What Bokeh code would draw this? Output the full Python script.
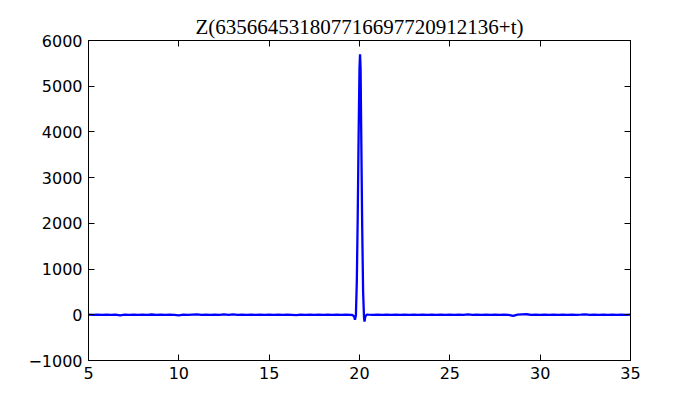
from bokeh.plotting import figure
from bokeh.models import LinearAxis, FixedTicker, CustomJSTickFormatter, Range1d
from bokeh.embed import file_html
from bokeh.resources import INLINE

t_left = [5.0, 5.25, 5.5, 5.75, 6.0, 6.25, 6.5, 6.75, 7.0, 7.25, 7.5, 7.75, 8.0, 8.25, 8.5, 8.75,
          9.0, 9.25, 9.5, 9.75, 10.0, 10.25, 10.5, 10.75, 11.0, 11.25, 11.5, 11.75, 12.0, 12.25,
          12.5, 12.75, 13.0, 13.25, 13.5, 13.75, 14.0, 14.25, 14.5, 14.75, 15.0, 15.25, 15.5, 15.75,
          16.0, 16.25, 16.5, 16.75, 17.0, 17.25, 17.5, 17.75, 18.0, 18.25, 18.5, 18.75, 19.0, 19.25, 19.5]
z_left = [2, -1, 3, -2, 2, -1, 3, -12, 4, -2, 3, -2, 4, -3, 6, -3,
          2, -4, 3, -2, -12, 3, -2, 4, 10, -3, 2, -4, 3, -1,
          7, -3, 8, -2, 3, -3, 5, -2, 2, -3, 3, -1, 2, -2,
          1, -3, -8, 2, -2, 3, -1, 4, -2, 2, -3, 3, -2, 3, -4]

t_peak = [19.6, 19.7, 19.75, 19.8, 19.85, 19.9, 19.95, 20.0, 20.03, 20.06, 20.1, 20.15, 20.2,
          20.25, 20.28, 20.32, 20.4]
z_peak = [-5, -35, -110, -10, 700, 2100, 3900, 5400, 5700, 5400, 3800, 1900, 500,
          -60, -150, -40, 4]

t_right = [20.5, 20.75, 21.0, 21.25, 21.5, 21.75, 22.0, 22.25, 22.5, 22.75, 23.0, 23.25, 23.5,
           23.75, 24.0, 24.25, 24.5, 24.75, 25.0, 25.25, 25.5, 25.75, 26.0, 26.25, 26.5, 26.75,
           27.0, 27.25, 27.5, 27.75, 28.0, 28.25, 28.5, 28.75, 29.0, 29.25, 29.5, 29.75, 30.0,
           30.25, 30.5, 30.75, 31.0, 31.25, 31.5, 31.75, 32.0, 32.25, 32.5, 32.75, 33.0, 33.25,
           33.5, 33.75, 34.0, 34.25, 34.5, 34.75, 35.0]
z_right = [2, -2, 3, -2, 2, -3, 3, -1, 2, -2, 3, -2, 1,
           -2, 2, -3, 4, -1, 3, -2, 3, -2, 8, -3, 4, -2,
           4, -3, 3, -4, 5, -3, -22, 4, 8, 12, -2, 3, -3,
           4, -2, 3, -2, 4, -1, 3, -2, 3, 10, -2, 3, -2,
           2, -1, 3, -2, 2, -1, 2]

x_ticks = [5, 10, 15, 20, 25, 30, 35]
y_ticks = [-1000, 0, 1000, 2000, 3000, 4000, 5000, 6000]
y_labels = {-1000: "\u22121000"}

title_text = "Z(635664531807716697720912136+t)"

t = t_left + t_peak + t_right
z = z_left + z_peak + z_right

p = figure(width=692, height=392, output_backend="svg", toolbar_location=None,
           x_range=Range1d(5, 35), y_range=Range1d(-1000, 6000),
           min_border_left=88, min_border_right=62, min_border_top=40, min_border_bottom=32)
p.title.text = title_text
p.title.align = "center"
p.title.text_font = "Liberation Serif"
p.title.text_font_size = "21px"
p.title.text_font_style = "normal"
p.title.text_color = "black"
p.title.standoff = 4

p.line(t, z, line_color="#0000ff", line_width=2.3)

p.xgrid.visible = False
p.ygrid.visible = False
p.outline_line_color = "black"
p.outline_line_width = 1
p.background_fill_color = "white"
p.border_fill_color = "white"

for ax in [p.xaxis[0], p.yaxis[0]]:
    ax.major_tick_in = 6
    ax.major_tick_out = 0
    ax.minor_tick_in = 0
    ax.minor_tick_out = 0
    ax.axis_line_color = "black"
    ax.major_tick_line_color = "black"
    ax.major_label_text_font = "DejaVu Sans"
    ax.major_label_text_font_size = "16px"
    ax.major_label_text_color = "black"

p.xaxis[0].ticker = FixedTicker(ticks=x_ticks)
p.yaxis[0].ticker = FixedTicker(ticks=y_ticks)
p.yaxis[0].major_label_overrides = y_labels
p.xaxis[0].major_label_standoff = 6
p.yaxis[0].major_label_standoff = 6

blank = CustomJSTickFormatter(code="return ''")
top = LinearAxis(ticker=FixedTicker(ticks=x_ticks), formatter=blank,
                 major_tick_in=6, major_tick_out=0, minor_tick_in=0, minor_tick_out=0,
                 major_label_text_font_size="0px", major_label_standoff=0)
right = LinearAxis(ticker=FixedTicker(ticks=y_ticks), formatter=blank,
                   major_tick_in=6, major_tick_out=0, minor_tick_in=0, minor_tick_out=0,
                   major_label_text_font_size="0px", major_label_standoff=0)
p.add_layout(top, "above")
p.add_layout(right, "right")

open("out.html", "w").write(file_html(p, INLINE))
